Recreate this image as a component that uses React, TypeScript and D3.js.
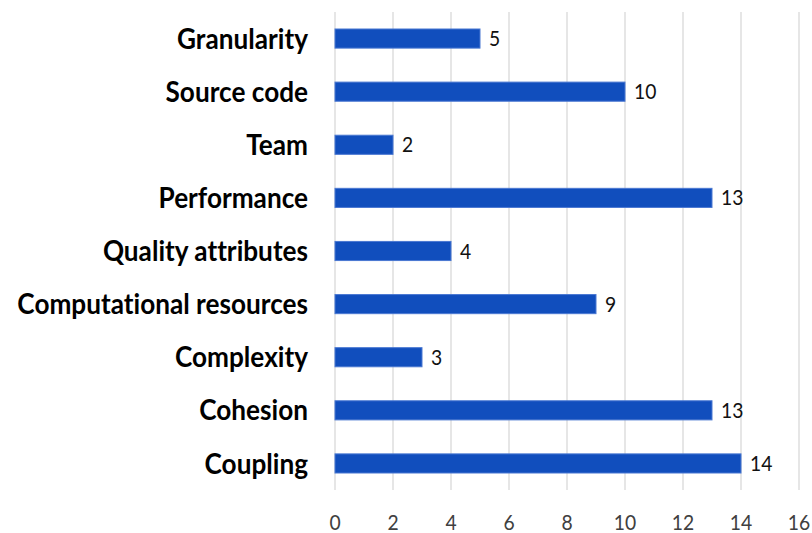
import React from "react";
import * as d3 from "d3";

const categories = [
  "Granularity",
  "Source code",
  "Team",
  "Performance",
  "Quality attributes",
  "Computational resources",
  "Complexity",
  "Cohesion",
  "Coupling",
];
const counts = [5, 10, 2, 13, 4, 9, 3, 13, 14];
const xTicks = [0, 2, 4, 6, 8, 10, 12, 14, 16];

const W = 812;
const H = 533;
const margin = { top: 12, right: 13, bottom: 43, left: 335 };

export default function App() {
  const x = d3.scaleLinear().domain([0, 16]).range([margin.left, W - margin.right]);
  const y = d3
    .scaleBand<string>()
    .domain(categories)
    .range([margin.top, H - margin.bottom])
    .paddingInner(0.64)
    .paddingOuter(0.32);
  const labelFont = "Lato, Carlito, sans-serif";
  const numFont = "Lato, Carlito, sans-serif";
  return (
    <svg
      width={W}
      height={H}
      style={{ position: "absolute", left: 0, top: 0, background: "#fff" }}
    >
      {xTicks.map((t) => (
        <line
          key={"g" + t}
          x1={x(t)}
          x2={x(t)}
          y1={margin.top}
          y2={H - margin.bottom}
          stroke="#D9D9D9"
          strokeWidth={1.3}
        />
      ))}
      {categories.map((c, i) => {
        const cy = y(c)! + y.bandwidth() / 2;
        return (
          <g key={c}>
            <rect
              x={x(0)}
              y={y(c)!}
              width={x(counts[i]) - x(0)}
              height={y.bandwidth()}
              fill="#114EBD"
              stroke="#4A78D2"
              strokeWidth={1}
            />
            <text
              transform={`translate(${x(counts[i]) + 9},${cy}) scale(0.92,1)`}
              dy="0.36em"
              fontFamily={numFont}
              fontSize={21}
              fill="#111"
            >
              {counts[i]}
            </text>
            <text
              transform={`translate(308,${cy}) scale(0.935,1)`}
              dy="0.36em"
              textAnchor="end"
              fontFamily={labelFont}
              fontWeight="bold"
              fontSize={28}
              fill="#000"
              style={{ fontVariantLigatures: "none" }}
            >
              {c}
            </text>
          </g>
        );
      })}
      {xTicks.map((t) => (
        <text
          key={"t" + t}
          transform={`translate(${x(t)},530) scale(0.92,1)`}
          textAnchor="middle"
          fontFamily={numFont}
          fontSize={21}
          fill="#404040"
        >
          {t}
        </text>
      ))}
    </svg>
  );
}
